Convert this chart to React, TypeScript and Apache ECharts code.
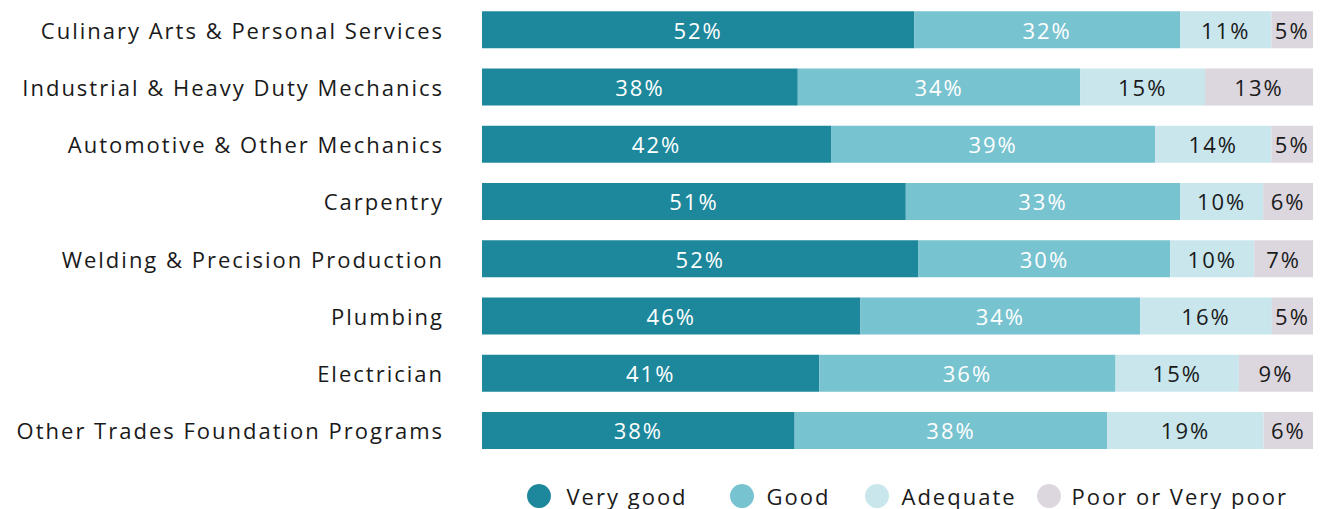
import React, { useEffect, useRef } from "react";
import * as echarts from "echarts";

const categories = [
  "Culinary Arts & Personal Services",
  "Industrial & Heavy Duty Mechanics",
  "Automotive & Other Mechanics",
  "Carpentry",
  "Welding & Precision Production",
  "Plumbing",
  "Electrician",
  "Other Trades Foundation Programs",
];
const veryGood = [52, 38, 42, 51, 52, 46, 41, 38];
const good = [32, 34, 39, 33, 30, 34, 36, 38];
const adequate = [11, 15, 14, 10, 10, 16, 15, 19];
const poor = [5, 13, 5, 6, 7, 5, 9, 6];

const seriesNames = ["Very good", "Good", "Adequate", "Poor or Very poor"];
const seriesColors = ["#1d889c", "#78c3d0", "#c8e6ec", "#dcd6df"];
const labelColors = ["#ffffff", "#ffffff", "#1a1a1a", "#1a1a1a"];

const FONT = "'Open Sans', 'Noto Sans', sans-serif";

export default function App() {
  const ref = useRef<HTMLDivElement>(null);
  useEffect(() => {
    if (!ref.current) return;
    const chart = echarts.init(ref.current, null, { renderer: "svg" });
    const all = [veryGood, good, adequate, poor];
    const totals = categories.map((_, i) => all.reduce((s, arr) => s + arr[i], 0));
    const legendLefts = [527, 730, 865, 1037];
    const legendPads = [10, 7, 7, 5];
    chart.setOption({
      animation: false,
      grid: { left: 482, right: 8, top: 1, height: 458 },
      legend: seriesNames.map((name, i) => ({
        left: legendLefts[i],
        top: 484,
        padding: 0,
        icon: "circle",
        itemWidth: 25,
        itemHeight: 24,
        textStyle: { fontFamily: FONT, fontSize: 22, color: "#1a1a1a", padding: [0, 0, 0, legendPads[i]] },
        data: [name],
      })),
      xAxis: { type: "value", min: 0, max: 100, show: false },
      yAxis: {
        type: "category",
        inverse: true,
        data: categories,
        axisLine: { show: false },
        axisTick: { show: false },
        splitLine: { show: false },
        axisLabel: { fontFamily: FONT, fontSize: 22, color: "#1a1a1a", margin: 38 },
      },
      series: all.map((arr, si) => ({
        name: seriesNames[si],
        type: "bar",
        stack: "total",
        barWidth: 37,
        itemStyle: { color: seriesColors[si] },
        label: {
          show: true,
          position: "inside",
          fontFamily: FONT,
          fontSize: 22,
          color: labelColors[si],
          formatter: (p: any) => arr[p.dataIndex] + "%",
        },
        data: arr.map((v, i) => (v / totals[i]) * 100),
      })),
    });
    return () => chart.dispose();
  }, []);
  return (
    <>
      <style>{"#chart-host text { letter-spacing: 2px; }"}</style>
      <div id="chart-host" ref={ref} style={{ width: 1321, height: 509, position: "absolute", left: 0, top: 0 }} />
    </>
  );
}
